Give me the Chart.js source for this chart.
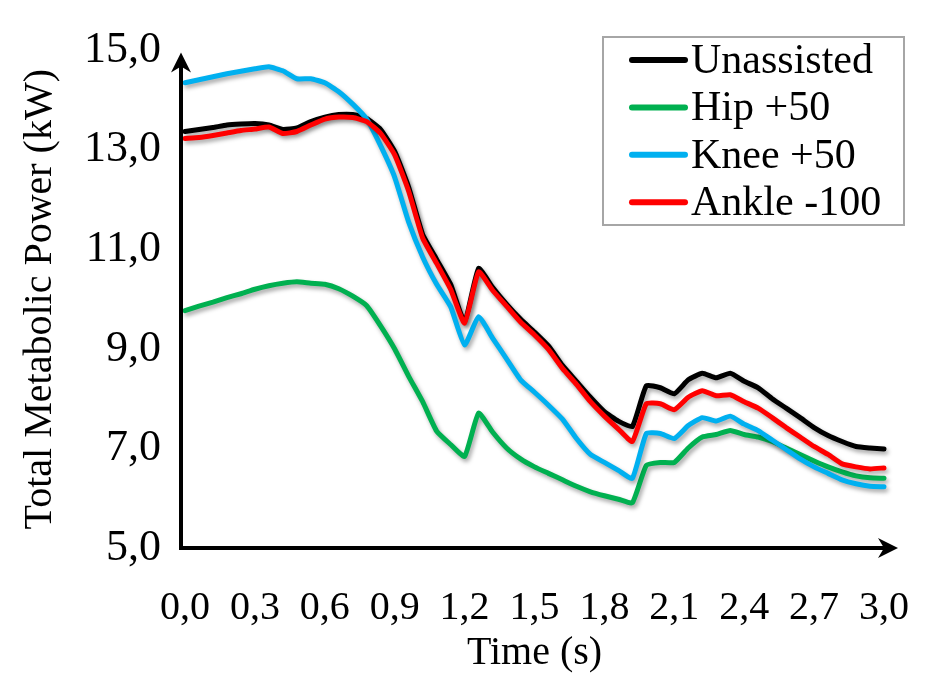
<!DOCTYPE html>
<html>
<head>
<meta charset="utf-8">
<title>Total Metabolic Power</title>
<script src="https://cdn.jsdelivr.net/npm/chart.js@4.4.1/dist/chart.umd.min.js"></script>
<style>
    html, body { margin: 0; padding: 0; background: #ffffff; }
    #grafico { display: block; }
</style>
</head>
<body>
<canvas id="grafico" width="945" height="673"></canvas>
<script>
// tiempos (s) de cada muestra
const tiempos = [
    0.00, 0.06, 0.12, 0.18, 0.24, 0.30, 0.36, 0.42, 0.48, 0.54,
    0.60, 0.66, 0.72, 0.78, 0.84, 0.90, 0.96, 1.02, 1.08, 1.14,
    1.20, 1.26, 1.32, 1.38, 1.44, 1.50, 1.56, 1.62, 1.68, 1.74,
    1.80, 1.86, 1.92, 1.98, 2.04, 2.10, 2.16, 2.22, 2.28, 2.34,
    2.40, 2.46, 2.52, 2.58, 2.64, 2.70, 2.76, 2.82, 2.88, 2.94,
    3.00
];

const etiquetas = ['Unassisted', 'Hip +50', 'Knee +50', 'Ankle -100'];
const colores = ['#000000', '#00b050', '#00b0f0', '#ff0000'];

const unassisted = [
    13.37, 13.41, 13.45, 13.50, 13.52, 13.53, 13.50, 13.41, 13.44, 13.57,
    13.66, 13.71, 13.71, 13.63, 13.41, 12.97, 12.25, 11.30, 10.80, 10.30,
    9.55, 10.62, 10.24, 9.90, 9.60, 9.34, 9.06, 8.67, 8.35, 8.03,
    7.74, 7.55, 7.44, 8.26, 8.22, 8.10, 8.38, 8.51, 8.42, 8.51,
    8.35, 8.22, 8.00, 7.81, 7.62, 7.42, 7.26, 7.14, 7.04, 7.01,
    6.99
];
const hip50 = [
    9.77, 9.86, 9.94, 10.03, 10.11, 10.20, 10.27, 10.32, 10.35, 10.32,
    10.30, 10.21, 10.06, 9.87, 9.46, 9.00, 8.45, 7.94, 7.35, 7.08,
    6.84, 7.71, 7.33, 7.01, 6.79, 6.63, 6.50, 6.37, 6.24, 6.13,
    6.05, 5.98, 5.91, 6.66, 6.72, 6.72, 7.01, 7.23, 7.28, 7.36,
    7.28, 7.23, 7.14, 7.01, 6.88, 6.75, 6.63, 6.53, 6.45, 6.41,
    6.40
];
const knee50 = [
    14.35, 14.41, 14.47, 14.53, 14.58, 14.63, 14.67, 14.59, 14.43, 14.43,
    14.35, 14.17, 13.92, 13.62, 13.08, 12.45, 11.55, 10.85, 10.30, 9.85,
    9.08, 9.65, 9.22, 8.80, 8.38, 8.13, 7.87, 7.59, 7.20, 6.88,
    6.72, 6.56, 6.40, 7.30, 7.30, 7.20, 7.46, 7.62, 7.55, 7.65,
    7.49, 7.36, 7.17, 6.98, 6.79, 6.63, 6.50, 6.37, 6.29, 6.24,
    6.23
];
const ankle100 = [
    13.23, 13.25, 13.29, 13.34, 13.39, 13.42, 13.46, 13.33, 13.37, 13.50,
    13.62, 13.66, 13.65, 13.57, 13.33, 12.90, 12.17, 11.23, 10.72, 10.20,
    9.52, 10.55, 10.18, 9.86, 9.54, 9.28, 8.99, 8.61, 8.29, 7.94,
    7.65, 7.39, 7.14, 7.90, 7.90, 7.78, 8.03, 8.16, 8.06, 8.08,
    7.94, 7.81, 7.62, 7.42, 7.23, 7.04, 6.88, 6.69, 6.63, 6.59,
    6.61
];

const series = [unassisted, hip50, knee50, ankle100];
const fuente = "'Liberation Serif', 'Times New Roman', serif";

function coma(v) {
    return v.toFixed(1).replace('.', ',');
}

// sombra suave bajo las lineas
const sombraPlugin = {
    id: 'sombra',
    beforeDatasetsDraw(chart) {
        const ctx = chart.ctx;
        ctx.save();
        ctx.shadowColor = 'rgba(0, 0, 0, 0.35)';
        ctx.shadowBlur = 4;
        ctx.shadowOffsetX = 2;
        ctx.shadowOffsetY = 3;
    },
    afterDatasetsDraw(chart) {
        chart.ctx.restore();
    }
};

// ejes con flecha y leyenda dentro del area
const ejesPlugin = {
    id: 'ejes',
    afterDraw(chart) {
        const ctx = chart.ctx;
        const area = chart.chartArea;
        const x0 = area.left - 4;
        const y0 = area.bottom;
        ctx.save();
        ctx.strokeStyle = '#000000';
        ctx.fillStyle = '#000000';
        ctx.lineWidth = 4;
        ctx.beginPath();
        ctx.moveTo(x0, y0 + 2);
        ctx.lineTo(x0, area.top + 14);
        ctx.moveTo(x0 - 2, y0);
        ctx.lineTo(area.right + 2, y0);
        ctx.stroke();
        // flecha vertical
        ctx.beginPath();
        ctx.moveTo(x0, area.top + 2);
        ctx.lineTo(x0 - 10, area.top + 22);
        ctx.lineTo(x0, area.top + 16);
        ctx.lineTo(x0 + 10, area.top + 22);
        ctx.closePath();
        ctx.fill();
        // flecha horizontal
        ctx.beginPath();
        ctx.moveTo(area.right + 14, y0);
        ctx.lineTo(area.right - 6, y0 - 10);
        ctx.lineTo(area.right, y0);
        ctx.lineTo(area.right - 6, y0 + 10);
        ctx.closePath();
        ctx.fill();

        // leyenda
        const lx = 603, ly = 37, lw = 301, lh = 188;
        ctx.fillStyle = '#ffffff';
        ctx.fillRect(lx, ly, lw, lh);
        ctx.strokeStyle = '#a6a6a6';
        ctx.lineWidth = 2;
        ctx.strokeRect(lx, ly, lw, lh);
        ctx.font = '42px ' + fuente;
        ctx.textBaseline = 'middle';
        chart.data.datasets.forEach((ds, i) => {
            const yy = 60 + i * 47.4;
            ctx.strokeStyle = ds.borderColor;
            ctx.lineWidth = 6;
            ctx.lineCap = 'round';
            ctx.beginPath();
            ctx.moveTo(632, yy);
            ctx.lineTo(685, yy);
            ctx.stroke();
            ctx.fillStyle = '#000000';
            ctx.fillText(ds.label, 691, yy + 2);
        });
        ctx.restore();
    }
};

const datasets = series.map((valores, i) => ({
    label: etiquetas[i],
    data: tiempos.map((t, j) => ({ x: t, y: valores[j] })),
    borderColor: colores[i],
    backgroundColor: colores[i],
    borderWidth: 5,
    pointRadius: 0,
    tension: 0.15,
    borderCapStyle: 'round',
    borderJoinStyle: 'round',
    clip: false,
    order: 4 - i // Ankle -100 queda encima
}));

const ctx = document.getElementById('grafico').getContext('2d');
const grafico = new Chart(ctx, {
    type: 'line',
    data: { datasets: datasets },
    options: {
        responsive: false,
        animation: false,
        devicePixelRatio: 1,
        layout: { padding: { top: 27, right: 42, left: 0, bottom: 0 } },
        plugins: {
            legend: { display: false },
            tooltip: { enabled: false }
        },
        scales: {
            x: {
                type: 'linear',
                min: 0,
                max: 3,
                grid: { display: false, drawTicks: false },
                border: { display: false },
                ticks: {
                    stepSize: 0.3,
                    color: '#000000',
                    font: { family: fuente, size: 40 },
                    padding: 36,
                    maxRotation: 0,
                    autoSkip: false,
                    callback: (v) => coma(v)
                },
                title: {
                    display: true,
                    text: 'Time (s)',
                    color: '#000000',
                    font: { family: fuente, size: 40, lineHeight: 1 },
                    padding: { top: 0, bottom: 0 }
                },
                afterFit(scale) { scale.height = 125; }
            },
            y: {
                min: 5,
                max: 15,
                grid: { display: false, drawTicks: false },
                border: { display: false },
                ticks: {
                    stepSize: 2,
                    color: '#000000',
                    font: { family: fuente, size: 44 },
                    padding: 24,
                    callback: (v) => coma(v)
                },
                title: {
                    display: true,
                    text: 'Total Metabolic Power (kW)',
                    color: '#000000',
                    font: { family: fuente, size: 40, lineHeight: 1 },
                    padding: { top: 20, bottom: 0 }
                },
                afterFit(scale) { scale.width = 185; }
            }
        }
    },
    plugins: [sombraPlugin, ejesPlugin]
});
</script>
</body>
</html>
